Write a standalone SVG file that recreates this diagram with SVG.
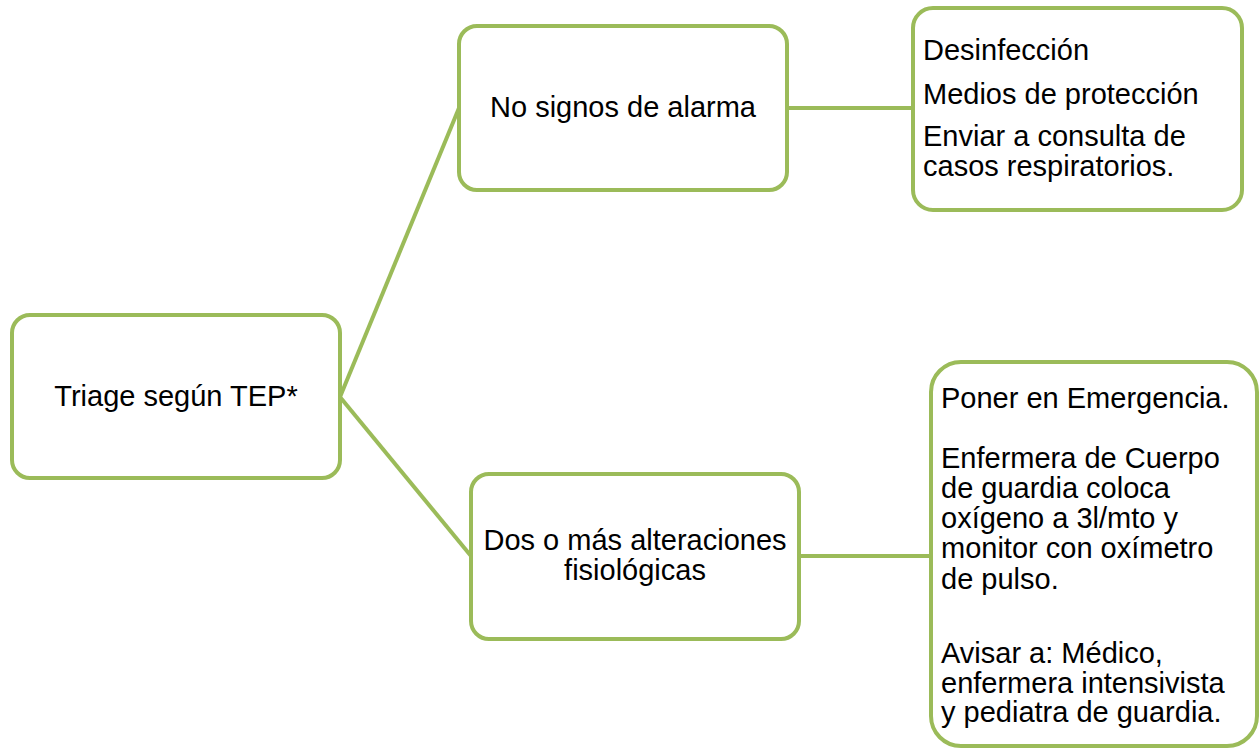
<svg xmlns="http://www.w3.org/2000/svg" width="1260" height="748" viewBox="0 0 1260 748">
<style>
.box{fill:#fff;stroke:#9BBB59;stroke-width:4}
.conn{stroke:#9BBB59;stroke-width:4;fill:none}
text{font-family:"Liberation Sans",Arial,sans-serif;font-size:29px;fill:#000}
.c{text-anchor:middle}
</style>
<rect width="1260" height="748" fill="#fff"/>
<g id="connectors">
<line class="conn" x1="340" y1="397" x2="459" y2="108"/>
<line class="conn" x1="340" y1="397" x2="471" y2="556"/>
<line class="conn" x1="787" y1="108" x2="913" y2="108"/>
<line class="conn" x1="799" y1="556" x2="931" y2="556"/>
</g>
<g id="triage">
<rect class="box" x="12" y="315" width="328" height="163" rx="18"/>
<text class="c" x="176" y="406">Triage según TEP*</text>
</g>
<g id="no-signos">
<rect class="box" x="459" y="26" width="328" height="164" rx="18"/>
<text class="c" x="623" y="117">No signos de alarma</text>
</g>
<g id="desinfeccion">
<rect class="box" x="913" y="8" width="329" height="202" rx="20"/>
<text x="923" y="60">Desinfección</text>
<text x="923" y="104">Medios de protección</text>
<text x="923" y="146">Enviar a consulta de</text>
<text x="923" y="176">casos respiratorios.</text>
</g>
<g id="dos-o-mas">
<rect class="box" x="471" y="474" width="328" height="165" rx="18"/>
<text class="c" x="635" y="550">Dos o más alteraciones</text>
<text class="c" x="635" y="580">fisiológicas</text>
</g>
<g id="emergencia">
<rect class="box" x="931" y="362" width="326" height="384" rx="30"/>
<text x="941" y="408">Poner en Emergencia.</text>
<text x="941" y="468">Enfermera de Cuerpo</text>
<text x="941" y="498">de guardia coloca</text>
<text x="941" y="528">oxígeno a 3l/mto y</text>
<text x="941" y="558">monitor con oxímetro</text>
<text x="941" y="589">de pulso.</text>
<text x="941" y="663">Avisar a: Médico,</text>
<text x="941" y="693">enfermera intensivista</text>
<text x="941" y="722">y pediatra de guardia.</text>
</g>
</svg>
